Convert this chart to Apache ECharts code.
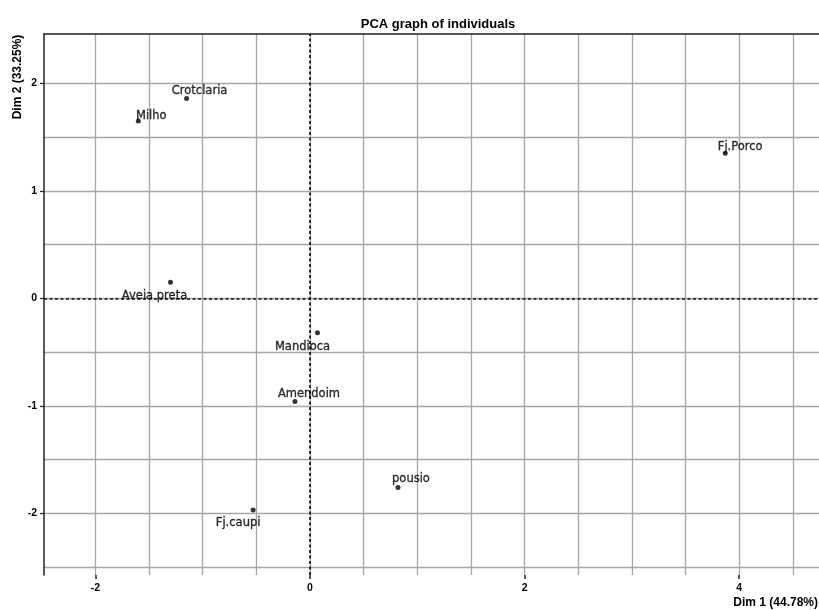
<!DOCTYPE html>
<html>
<head>
<meta charset="utf-8">
<script src="https://cdn.jsdelivr.net/npm/echarts@6/dist/echarts.min.js"></script>
<style>html,body{margin:0;padding:0;background:#fff}#c{width:819px;height:610px}</style>
</head>
<body>
<div id="c"></div>
<script>
// ---- data ----
const individuals = ["Crotclaria", "Milho", "Fj.Porco", "Aveia preta", "Mandioca", "Amendoim", "pousio", "Fj.caupi"];
const dim1 = [-1.15, -1.60, 3.87, -1.30, 0.07, -0.14, 0.82, -0.53];
const dim2 = [1.86, 1.65, 1.35, 0.15, -0.32, -0.96, -1.76, -1.97];
const xTickLabels = [-2, 0, 2, 4];
const yTickLabels = [-2, -1, 0, 1, 2];
const xGridValues = [-2, -1.5, -1, -0.5, 0, 0.5, 1, 1.5, 2, 2.5, 3, 3.5, 4, 4.5];
const yGridValues = [-2.5, -2, -1.5, -1, -0.5, 0, 0.5, 1, 1.5, 2];
const titleText = "PCA graph of individuals";
const xName = "Dim 1 (44.78%)";
const yName = "Dim 2 (33.25%)";

// ---- styles (label offsets per point, pixels) ----
const labelOffsets = [[13, -8], [13, -6], [15, -7], [-16, 13], [-15, 13], [14, -8], [13, -9], [-15, 12]];

const FONT = "Liberation Sans";
const LFONT = "DejaVu Sans";
const chart = echarts.init(document.getElementById('c'), null, {renderer: 'canvas'});

const points = individuals.map((n, i) => ({name: n, value: [dim1[i], dim2[i]]}));

const xMin = -2.479, xMax = 4.744, yMin = -2.574, yMax = 2.459;

chart.setOption({
  animation: false,
  backgroundColor: '#fff',
  title: {
    text: titleText, left: 433, top: 13, textAlign: 'center',
    textStyle: {fontFamily: FONT, fontWeight: 'bold', fontSize: 13, color: '#000'}
  },
  grid: {left: 44, right: 0, top: 34, bottom: 35, containLabel: false},
  xAxis: [{
    type: 'value', min: xMin, max: xMax, position: 'bottom',
    axisLine: {show: false, onZero: false},
    axisTick: {show: true, customValues: xTickLabels, length: 4, inside: false, lineStyle: {color: '#222', width: 1.5}},
    axisLabel: {customValues: xTickLabels, fontFamily: FONT, fontWeight: 'bold', fontSize: 10.5, color: '#000', margin: 8},
    splitLine: {show: false}
  }, {
    type: 'value', min: xMin, max: xMax, position: 'top',
    axisLine: {show: true, onZero: false, lineStyle: {color: '#222', width: 1.5}},
    axisTick: {show: false, customValues: xGridValues},
    axisLabel: {show: false},
    splitLine: {show: true, lineStyle: {color: '#a6a6a6', width: 1.3}}
  }],
  yAxis: [{
    type: 'value', min: yMin, max: yMax,
    axisLine: {show: true, onZero: false, lineStyle: {color: '#222', width: 1.5}},
    axisTick: {show: true, customValues: yTickLabels, length: 4, lineStyle: {color: '#222', width: 1.2}},
    axisLabel: {customValues: yTickLabels, fontFamily: FONT, fontWeight: 'bold', fontSize: 10.5, color: '#000', margin: 7},
    splitLine: {show: false}
  }, {
    type: 'value', min: yMin, max: yMax, position: 'left',
    axisLine: {show: false, onZero: false},
    axisTick: {show: false, customValues: yGridValues},
    axisLabel: {show: false},
    splitLine: {show: true, lineStyle: {color: '#a6a6a6', width: 1.3}}
  }],
  graphic: [{
    type: 'text', x: 18, y: 77, rotation: Math.PI / 2,
    style: {text: yName, fontFamily: FONT, fontWeight: 'bold', fontSize: 12, fill: '#000', align: 'center', verticalAlign: 'middle'}
  }, {
    type: 'text', x: 818, y: 603,
    style: {text: xName, fontFamily: FONT, fontWeight: 'bold', fontSize: 12, fill: '#000', align: 'right', verticalAlign: 'middle'}
  }],
  series: [{
    type: 'scatter', xAxisIndex: 0, yAxisIndex: 0,
    symbol: 'circle', symbolSize: 5,
    itemStyle: {color: '#000'},
    data: points,
    label: {
      show: true, position: 'inside', formatter: '{b}',
      fontFamily: LFONT, fontSize: 11.5, color: '#000',
      textBorderColor: '#000', textBorderWidth: 0.35
    },
    emphasis: {disabled: true},
    labelLayout: function (p) {
      const o = labelOffsets[p.dataIndex];
      return {dx: o[0], dy: o[1] + 1, hideOverlap: false};
    },
    markLine: {
      silent: true, symbol: 'none', label: {show: false},
      lineStyle: {color: '#111', type: [3, 2.5], width: 1.7},
      data: [{xAxis: 0}, {yAxis: 0}],
      animation: false
    },
    z: 5
  }]
});
</script>
</body>
</html>
